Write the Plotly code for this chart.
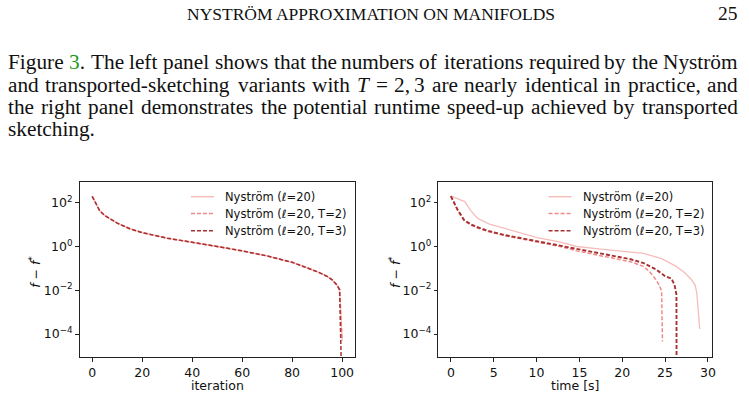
import re
import plotly.graph_objects as go

# ---------------- data ----------------
iter_x = [0, 1, 2, 3, 5, 7, 10, 15, 20, 30, 40, 50, 60, 70, 80, 85, 90, 94, 96, 98, 99, 100]
iter_base = [195, 115, 63, 43, 26, 18.6, 11.7, 6.5, 4.3, 2.4, 1.58, 1.0, 0.63, 0.37, 0.19,
             0.12, 0.071, 0.043, 0.030, 0.017, 0.0105]
iter_nys = iter_base + [5.4e-5]
iter_t2 = iter_base + [5.0e-5]
iter_t3 = iter_base + [1e-7]

time_nys_x = [0, 1.63, 2.3, 3.1, 4.5, 6.2, 8, 10.07, 12.5, 14.7, 17.5, 20, 22.5, 24.6, 26.3,
              27.3, 28.07, 28.5, 28.7, 29.05]
time_nys_y = [200, 112, 45, 19.5, 10.5, 6.9, 4.2, 2.57, 1.66, 1.0, 0.76, 0.60, 0.48, 0.28,
              0.123, 0.063, 0.031, 0.0178, 0.0079, 1.7e-4]

time_t2_x = [0, 0.4, 0.8, 1.55, 2.3, 3, 4.2, 6.2, 8, 10, 12.5, 14.7, 18.6, 21, 22.46, 23.2,
             23.8, 24.3, 24.6, 24.7]
time_t2_y = [200, 93, 43, 15.1, 9.8, 7.4, 5.0, 3.16, 2.29, 1.58, 1.05, 0.63, 0.32, 0.2, 0.123,
             0.071, 0.036, 0.0178, 0.0091, 4.5e-5]

time_t3_x = [0, 0.4, 0.8, 1.55, 2.3, 3, 4.2, 6.2, 8, 10, 12.5, 14.7, 18.6, 21, 22.5, 24.0,
             25.0, 25.75, 26.1, 26.33, 26.35]
time_t3_y = [200, 100, 47, 16.2, 10.5, 7.9, 5.4, 3.4, 2.5, 1.7, 1.2, 0.79, 0.42, 0.26, 0.174,
             0.087, 0.044, 0.034, 0.018, 0.0063, 1e-7]

legend_labels = ["Nyström (<i>ℓ</i>=20)", "Nyström (<i>ℓ</i>=20, T=2)", "Nyström (<i>ℓ</i>=20, T=3)"]
x1_ticks = [0, 20, 40, 60, 80, 100]
x2_ticks = [0, 5, 10, 15, 20, 25, 30]
y_ticks = [1e2, 1e0, 1e-2, 1e-4]
y_ticktext = ["10<sup>2</sup>", "10<sup>0</sup>", "10<sup>−2</sup>", "10<sup>−4</sup>"]

header_text = "NYSTRÖM APPROXIMATION ON MANIFOLDS"
page_number = "25"
caption_lines = [
    "Figure <span style='color:#1c9a1c'>3</span>. The left panel shows that the numbers of iterations required by the Nyström",
    "and transported-sketching variants with <i>T</i> = 2, 3 are nearly identical in practice, and",
    "the right panel demonstrates the potential runtime speed-up achieved by transported",
    "sketching.",
]

# ---------------- styles ----------------
W, H = 749, 395
C_NYS = "#f6bcbc"
C_T2 = "#f08a8a"
C_T3 = "#a83232"
SANS = "DejaVu Sans"
SERIF = "Liberation Serif"
CAP_SIZE = 21.3
WIDTH_ADJ = 1.015

def px(x):
    return x / W

def py(y):
    return 1 - y / H

# Times-compatible advance widths (em) for justifying the caption
TW = dict(zip("abcdefghijklmnopqrstuvwxyz",
              [.444, .5, .444, .5, .444, .333, .5, .5, .278, .278, .5, .278, .778, .5, .5, .5, .5,
               .333, .389, .278, .5, .5, .722, .5, .5, .444]))
TW.update({"F": .556, "T": .611, "N": .722, ".": .25, ",": .25, "-": .333, "=": .564,
           "ö": .5, " ": .25})
for d in "0123456789":
    TW[d] = .5

def word_width(html, size):
    plain = re.sub(r"<[^>]+>", "", html)
    return sum(TW.get(c, .5) for c in plain) * size * WIDTH_ADJ

fig = go.Figure()

styles = [
    dict(color=C_NYS, width=1.3, dash="solid"),
    dict(color=C_T2, width=1.5, dash="4px,2px"),
    dict(color=C_T3, width=1.5, dash="4px,2px"),
]
for ys, st in zip([iter_nys, iter_t2, iter_t3], styles):
    fig.add_trace(go.Scatter(x=iter_x, y=ys, mode="lines", line=st,
                             xaxis="x", yaxis="y", showlegend=False, hoverinfo="skip"))

styles2 = [
    dict(color=C_NYS, width=1.3, dash="solid"),
    dict(color=C_T2, width=1.5, dash="4px,2px"),
    dict(color=C_T3, width=1.9, dash="4px,2px"),
]
for xs, ys, st in zip([time_nys_x, time_t2_x, time_t3_x],
                      [time_nys_y, time_t2_y, time_t3_y], styles2):
    fig.add_trace(go.Scatter(x=xs, y=ys, mode="lines", line=st,
                             xaxis="x2", yaxis="y2", showlegend=False, hoverinfo="skip"))

ydom = [1 - 357 / H, 1 - 181.5 / H]
axis_common = dict(showline=True, mirror=True, linecolor="#222", linewidth=1,
                   ticks="outside", ticklen=3.5, tickwidth=1, tickcolor="#222",
                   showgrid=False, zeroline=False,
                   tickfont=dict(family=SANS, size=12.5, color="#111"))

fig.update_layout(
    width=W, height=H,
    margin=dict(l=0, r=0, t=0, b=0),
    paper_bgcolor="white", plot_bgcolor="white",
    xaxis=dict(domain=[80 / W, 357 / W], range=[-5.05, 105.2], tickvals=x1_ticks,
               anchor="y", **axis_common),
    yaxis=dict(domain=ydom, type="log", range=[-5.05, 2.97], tickvals=y_ticks,
               ticktext=y_ticktext, anchor="x", **axis_common),
    xaxis2=dict(domain=[440.7 / W, 716 / W], range=[-1.46, 30.5], tickvals=x2_ticks,
                anchor="y2", **axis_common),
    yaxis2=dict(domain=ydom, type="log", range=[-5.05, 2.97], tickvals=y_ticks,
                ticktext=y_ticktext, anchor="x2", **axis_common),
)

annotations = []
shapes = []

# legends (manual, matplotlib style, no frame)
rows_y = [196.7, 213.5, 230.7]
for x_off in [0, 359.5]:
    for yy, lab, st in zip(rows_y, legend_labels, styles):
        shapes.append(dict(type="line", xref="paper", yref="paper",
                           x0=px(192 + x_off), x1=px(215 + x_off), y0=py(yy), y1=py(yy),
                           line=dict(color=st["color"], width=1.5, dash=st["dash"])))
        annotations.append(dict(text=lab, x=px(225.5 + x_off), y=py(yy), xanchor="left",
                                yanchor="middle",
                                font=dict(family=SANS, size=11.5, color="#111")))

# axis titles
title_font = dict(family=SANS, size=12.5, color="#111")
annotations += [
    dict(text="iteration", x=px(219), y=py(385), xanchor="center", yanchor="middle", font=title_font),
    dict(text="time [s]", x=px(578), y=py(385), xanchor="center", yanchor="middle", font=title_font),
    dict(text="<i>f</i> − <i>f</i><sup>*</sup>", x=px(35), y=py(272), textangle=-90,
         xanchor="center", yanchor="middle", font=title_font),
    dict(text="<i>f</i> − <i>f</i><sup>*</sup>", x=px(397), y=py(272), textangle=-90,
         xanchor="center", yanchor="middle", font=title_font),
]

# page header
annotations.append(dict(text=header_text, x=px(373), y=py(14), xanchor="center", yanchor="middle",
                        font=dict(family=SERIF, size=17.5, color="#111")))
annotations.append(dict(text=page_number, x=px(743), y=py(14), xanchor="right", yanchor="middle",
                        font=dict(family=SERIF, size=19.5, color="#111")))

# caption, justified word by word between x=7 and x=743 (last line ragged)
cap_font = dict(family=SERIF, size=CAP_SIZE, color="#111")
cap_y = [62, 84.5, 107, 129]
LEFT, RIGHT = 7, 743
for i, (line, yy) in enumerate(zip(caption_lines, cap_y)):
    words = re.findall(r"<span[^>]*>.*?</span>\S*|\S+", line)
    if i == len(caption_lines) - 1:
        annotations.append(dict(text=line, x=px(LEFT), y=py(yy), xanchor="left",
                                yanchor="middle", font=cap_font))
        continue
    widths = [word_width(w, CAP_SIZE) for w in words]
    gap = (RIGHT - LEFT - sum(widths)) / (len(words) - 1)
    xpos = LEFT
    n = len(words)
    for j, (w, wd) in enumerate(zip(words, widths)):
        if j < n / 2:
            annotations.append(dict(text=w, x=px(xpos), y=py(yy), xanchor="left",
                                    yanchor="middle", font=cap_font))
        else:
            annotations.append(dict(text=w, x=px(xpos + wd), y=py(yy), xanchor="right",
                                    yanchor="middle", font=cap_font))
        xpos += wd + gap

for a in annotations:
    a.setdefault("xref", "paper")
    a.setdefault("yref", "paper")
    a.setdefault("showarrow", False)
    a.setdefault("borderpad", 0)

fig.update_layout(annotations=annotations, shapes=shapes)
fig.write_html("out.html")
